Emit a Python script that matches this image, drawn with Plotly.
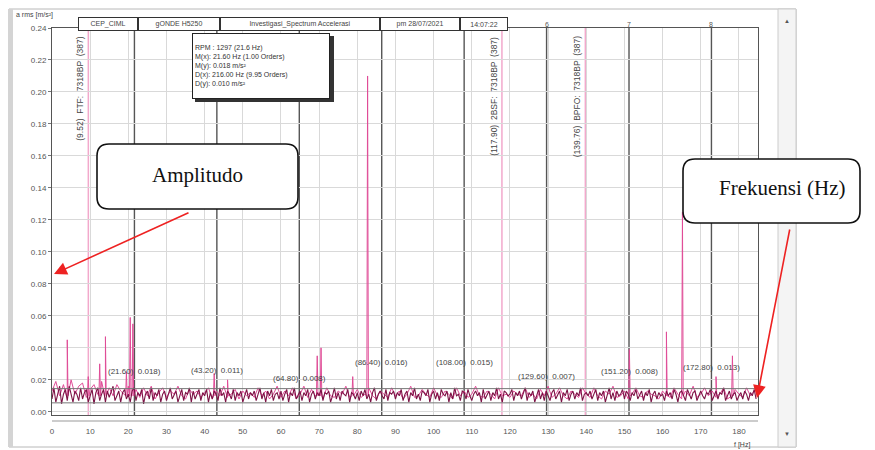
import numpy as np
import plotly.graph_objects as go

# ---------------- data ----------------
# maroon spectrum (0.5 Hz resolution), amplitude in 1/1000 m/s^2
MAROON_MILLI = [
    8,15,6,12,16,5,11,14,7,16,10,6,13,11,7,15,8,12,14,6,
    10,14,5,12,15,7,11,14,6,13,9,12,16,7,10,13,6,12,14,8,
    11,6,13,15,7,12,10,14,5,11,13,8,15,7,12,10,14,6,11,13,
    7,12,15,8,11,13,6,10,14,7,12,11,15,6,13,8,11,14,7,12,
    10,14,6,12,8,13,11,7,15,10,12,6,13,11,8,14,7,12,10,13,
    6,11,14,8,12,10,13,7,11,15,8,12,6,13,10,14,7,11,12,8,
    13,7,11,14,6,12,10,15,8,11,13,7,12,10,14,6,11,13,8,12,
    10,14,7,12,11,13,6,10,15,8,12,7,13,11,10,14,6,12,11,8,
    12,7,13,10,14,8,11,6,12,15,7,11,13,10,8,14,7,12,11,13,
    8,12,10,14,7,11,13,6,12,10,15,8,11,7,13,12,10,14,6,11,
    13,8,12,7,14,11,10,13,6,12,8,15,10,11,7,13,12,8,14,10,
    7,11,13,10,12,6,14,8,11,13,7,12,10,15,8,11,6,13,12,10,
    11,14,7,12,10,13,8,11,15,7,12,10,13,6,11,14,8,12,7,13,
    10,7,12,14,8,11,13,6,12,10,14,7,11,13,8,12,10,15,7,11,
    12,10,13,8,11,14,7,12,10,13,6,11,15,8,12,7,13,10,11,14,
    8,13,11,7,12,10,14,8,11,13,7,12,10,14,6,11,13,8,12,10,
    11,7,13,10,12,8,14,11,6,12,13,10,7,14,11,8,12,13,7,10,
    13,10,8,12,11,14,7,10,13,8,12,11,15,7,10,13,8,11,12,7,
    10,12,8,13,11,7,12,10,14,8,
]
MAROON_STEP_HZ = 0.5

# pink spectrum noise (1 Hz resolution), amplitude in 1/1000 m/s^2
PINK_MILLI = [
    13,19,10,17,12,20,11,16,18,9,14,17,11,19,12,15,10,17,13,11,
    16,11,14,9,15,10,16,8,12,15,9,13,11,16,10,8,14,11,13,9,
    12,15,8,13,10,16,9,11,14,8,13,10,12,9,15,10,13,8,11,16,
    9,13,10,15,8,11,16,9,14,10,12,8,15,10,9,13,11,16,9,10,
    14,9,11,15,10,8,13,11,9,15,10,13,8,11,16,9,10,14,11,9,
    15,10,9,13,11,8,15,10,13,9,11,16,10,9,13,11,8,15,10,11,
    9,13,11,10,15,9,11,8,14,10,16,9,11,15,10,8,13,11,9,15,
    11,9,15,10,8,13,11,16,9,10,13,8,11,15,10,9,13,11,10,8,
    13,10,9,15,11,8,13,10,16,9,11,15,10,13,9,11,15,8,10,14,
    11,9,15,10,13,
]
PINK_STEP_HZ = 1.0

# discrete spectral peaks
PEAK_FREQS = [4.0, 9.5, 12.5, 14.0, 19.5, 20.5, 21.2, 42.5, 46.0, 69.5, 70.5,
              78.8, 82.7, 151.3, 161.0, 165.2, 174.0, 178.3]
PEAK_VALS = [0.045, 0.022, 0.030, 0.047, 0.025, 0.059, 0.055, 0.024, 0.020, 0.035, 0.040,
             0.022, 0.210, 0.039, 0.050, 0.125, 0.022, 0.035]

# running speed harmonics
RUN_HZ = 21.6
HARMONIC_ORDERS = [1, 2, 3, 4, 5, 6, 7, 8]
HARMONIC_AMPS = [0.018, 0.011, 0.008, 0.016, 0.015, 0.007, 0.008, 0.013]
HARMONIC_LABEL_Y = [0.025, 0.026, 0.021, 0.031, 0.031, 0.022, 0.025, 0.028]
TOP_ORDER_LABELS = [5, 6, 7, 8]

# bearing defect frequencies
BEARING_FREQS = [9.52, 117.90, 139.76]
BEARING_LABELS = ["(9.52)  FTF:  7318BP  (387)", "(117.90)  2BSF:  7318BP  (387)",
                  "(139.76)  BPFO:  7318BP  (387)"]

# alarm / reference levels
LEVEL_LINES = [0.0145, 0.0056]

CURSOR_LINES = ["RPM : 1297 (21.6 Hz)", "M(x): 21.60 Hz (1.00 Orders)", "M(y): 0.018 m/s²",
                "D(x): 216.00 Hz (9.95 Orders)", "D(y): 0.010 m/s²"]

TAB_TEXT = ["CEP_CIML", "gONDE H5250", "Investigasi_Spectrum Accelerasi", "pm 28/07/2021", "14:07:22"]

X_RANGE = [0, 185]
Y_RANGE = [-0.002, 0.24]
X_TICKS = list(range(0, 181, 10))
Y_TICKS = [0.00, 0.02, 0.04, 0.06, 0.08, 0.10, 0.12, 0.14, 0.16, 0.18, 0.20, 0.22, 0.24]

# ---------------- layout helpers ----------------
W, H = 875, 450
PL, PR, PT, PB = 52, 758, 28, 415


def px(x):
    return (x - PL) / (PR - PL)


def py(y):
    return (PB - y) / (PB - PT)


def rrect(x0, y0, x1, y1, r):
    pts = [
        ("M", [(x0 + r, y0)]), ("L", [(x1 - r, y0)]), ("Q", [(x1, y0), (x1, y0 + r)]),
        ("L", [(x1, y1 - r)]), ("Q", [(x1, y1), (x1 - r, y1)]), ("L", [(x0 + r, y1)]),
        ("Q", [(x0, y1), (x0, y1 - r)]), ("L", [(x0, y0 + r)]), ("Q", [(x0, y0), (x0 + r, y0)]),
    ]
    s = ""
    for cmd, ps in pts:
        s += cmd + " " + " ".join(f"{px(a):.5f},{py(b):.5f}" for a, b in ps) + " "
    return s + "Z"


# ---------------- traces ----------------
mx = np.arange(len(MAROON_MILLI)) * MAROON_STEP_HZ
my = np.array(MAROON_MILLI) / 1000.0

pts = [(i * PINK_STEP_HZ, v / 1000.0) for i, v in enumerate(PINK_MILLI)]
for f, v in zip(PEAK_FREQS, PEAK_VALS):
    pts += [(f - 0.2, 0.010), (f, v), (f + 0.2, 0.010)]
pts.sort()
pkx = [p[0] for p in pts]
pky = [p[1] for p in pts]

fig = go.Figure()
fig.add_trace(go.Scatter(x=pkx, y=pky, mode="lines", line=dict(color="#e04c97", width=1),
                         hoverinfo="skip", showlegend=False))
fig.add_trace(go.Scatter(x=mx, y=my, mode="lines", line=dict(color="#7d1245", width=1.1),
                         hoverinfo="skip", showlegend=False))

shapes = []
for lv in LEVEL_LINES:
    shapes.append(dict(type="line", xref="paper", yref="y", x0=0, x1=1, y0=lv, y1=lv,
                       line=dict(color="#777777", width=1), layer="above"))
for bf in BEARING_FREQS:
    shapes.append(dict(type="line", xref="x", yref="paper", x0=bf, x1=bf, y0=0, y1=1,
                       line=dict(color="#f2a9cc", width=1.5), layer="below"))
for n in HARMONIC_ORDERS:
    shapes.append(dict(type="line", xref="x", yref="paper", x0=RUN_HZ * n, x1=RUN_HZ * n,
                       y0=0, y1=1, line=dict(color="#555555", width=1.4), layer="below"))
shapes.append(dict(type="line", xref="paper", yref="paper", x0=0, x1=1, y0=py(421), y1=py(421),
                   line=dict(color="#999999", width=1)))
# window frame
shapes.append(dict(type="rect", xref="paper", yref="paper", x0=px(9), x1=px(796), y0=py(447), y1=py(9),
                   line=dict(color="#b8b8b8", width=1), fillcolor="rgba(0,0,0,0)", layer="below"))
shapes.append(dict(type="rect", xref="paper", yref="paper", x0=px(8), x1=px(13), y0=py(447), y1=py(9),
                   line=dict(width=0), fillcolor="#d4d4d4", layer="below"))
shapes.append(dict(type="rect", xref="paper", yref="paper", x0=px(778), x1=px(796), y0=py(447), y1=py(9),
                   line=dict(color="#cccccc", width=1), fillcolor="#f4f4f4", layer="below"))
# cursor box shadow
shapes.append(dict(type="rect", xref="paper", yref="paper", x0=px(195), x1=px(334), y0=py(102), y1=py(36),
                   line=dict(width=0), fillcolor="#333333", layer="above"))
# callout boxes
shapes.append(dict(type="path", xref="paper", yref="paper", path=rrect(97, 144, 298, 209, 12),
                   line=dict(color="#111111", width=1.6), fillcolor="white", layer="above"))
shapes.append(dict(type="path", xref="paper", yref="paper", path=rrect(683, 159, 860, 223, 12),
                   line=dict(color="#111111", width=1.6), fillcolor="white", layer="above"))

ann = []
small = dict(family="Liberation Sans, Arial", size=8, color="#444444")
for n, a, ly in zip(HARMONIC_ORDERS, HARMONIC_AMPS, HARMONIC_LABEL_Y):
    f = RUN_HZ * n
    ann.append(dict(x=f, y=ly, xref="x", yref="y", text=f"({f:.2f})  {a:.3f})",
                    xanchor="center", showarrow=False, font=small))
for n in TOP_ORDER_LABELS:
    ann.append(dict(x=RUN_HZ * n, y=py(19), xref="x", yref="paper", text=str(n), xanchor="center",
                    showarrow=False, font=dict(family="Liberation Sans", size=7, color="#555555")))
for bf, bl in zip(BEARING_FREQS, BEARING_LABELS):
    ann.append(dict(x=bf, y=0.236, xref="x", yref="y", text=bl, textangle=-90, xshift=-8,
                    xanchor="center", yanchor="top", showarrow=False,
                    font=dict(family="Liberation Sans, Arial", size=8.5, color="#444444")))
ann.append(dict(x=px(14), y=py(15), xref="paper", yref="paper", text="a rms [m/s²]", xanchor="left",
                yanchor="middle", showarrow=False, font=dict(family="Liberation Sans", size=7, color="#444")))
TAB_X = [(78, 138), (138, 220), (220, 380), (380, 460), (460, 508)]
for t, (a, b) in zip(TAB_TEXT, TAB_X):
    ann.append(dict(x=px((a + b) / 2), y=py(17), xref="paper", yref="paper", text=t, showarrow=False,
                    xanchor="center", width=b - a - 4, height=10, bgcolor="white", bordercolor="#333333",
                    borderwidth=1, borderpad=1, font=dict(family="Liberation Sans", size=7, color="#444")))
ann.append(dict(x=px(787), y=py(15), xref="paper", yref="paper", text="▲", showarrow=False,
                xanchor="center", font=dict(size=6, color="#555")))
ann.append(dict(x=px(787), y=py(440), xref="paper", yref="paper", text="▼", showarrow=False,
                xanchor="center", font=dict(size=6, color="#555")))
ann.append(dict(x=px(742), y=py(445), xref="paper", yref="paper", text="f [Hz]", showarrow=False,
                xanchor="center", yanchor="middle", font=dict(family="Liberation Sans", size=7, color="#444")))
ann.append(dict(x=px(192), y=py(33), xref="paper", yref="paper", xanchor="left", yanchor="top",
                text="<br>".join(CURSOR_LINES), align="left", showarrow=False, width=132, height=60,
                bgcolor="white", bordercolor="#222222", borderwidth=1, borderpad=2,
                font=dict(family="Liberation Sans", size=7, color="#333333")))
serif = dict(family="Liberation Serif, Times New Roman", size=21, color="#111111")
ann.append(dict(x=px(197), y=py(175), xref="paper", yref="paper", text="Amplitudo", showarrow=False,
                xanchor="center", yanchor="middle", font=serif))
ann.append(dict(x=px(782), y=py(188), xref="paper", yref="paper", text="Frekuensi (Hz)", showarrow=False,
                xanchor="center", yanchor="middle", font=serif))
ann.append(dict(x=px(54), y=py(274), xref="paper", yref="paper", ax=136, ay=-62, text="",
                showarrow=True, arrowhead=2, arrowsize=1.6, arrowwidth=1.6, arrowcolor="#ee2222"))
ann.append(dict(x=px(757), y=py(398), xref="paper", yref="paper", ax=33, ay=-170, text="",
                showarrow=True, arrowhead=2, arrowsize=1.6, arrowwidth=1.6, arrowcolor="#ee2222"))

fig.update_layout(
    width=W, height=H,
    margin=dict(l=PL, r=W - PR, t=PT, b=H - PB),
    paper_bgcolor="white", plot_bgcolor="white",
    shapes=shapes, annotations=ann,
    xaxis=dict(range=X_RANGE, tickvals=X_TICKS, showgrid=True, gridcolor="#d9d9d9", gridwidth=1,
               zeroline=False, showline=True, linecolor="#555555", mirror=True,
               ticks="outside", ticklen=8, tickcolor="rgba(0,0,0,0)",
               tickfont=dict(family="Liberation Sans", size=8, color="#555555")),
    yaxis=dict(range=Y_RANGE, tickvals=Y_TICKS, tickformat=".2f", showgrid=True, gridcolor="#d9d9d9",
               gridwidth=1, zeroline=False, showline=True, linecolor="#555555", mirror=True,
               ticks="outside", ticklen=3, tickcolor="#777777",
               tickfont=dict(family="Liberation Sans", size=8, color="#555555")),
)

fig.write_html("out.html", config={"displayModeBar": False},
               post_script="document.body.style.margin='0';")
